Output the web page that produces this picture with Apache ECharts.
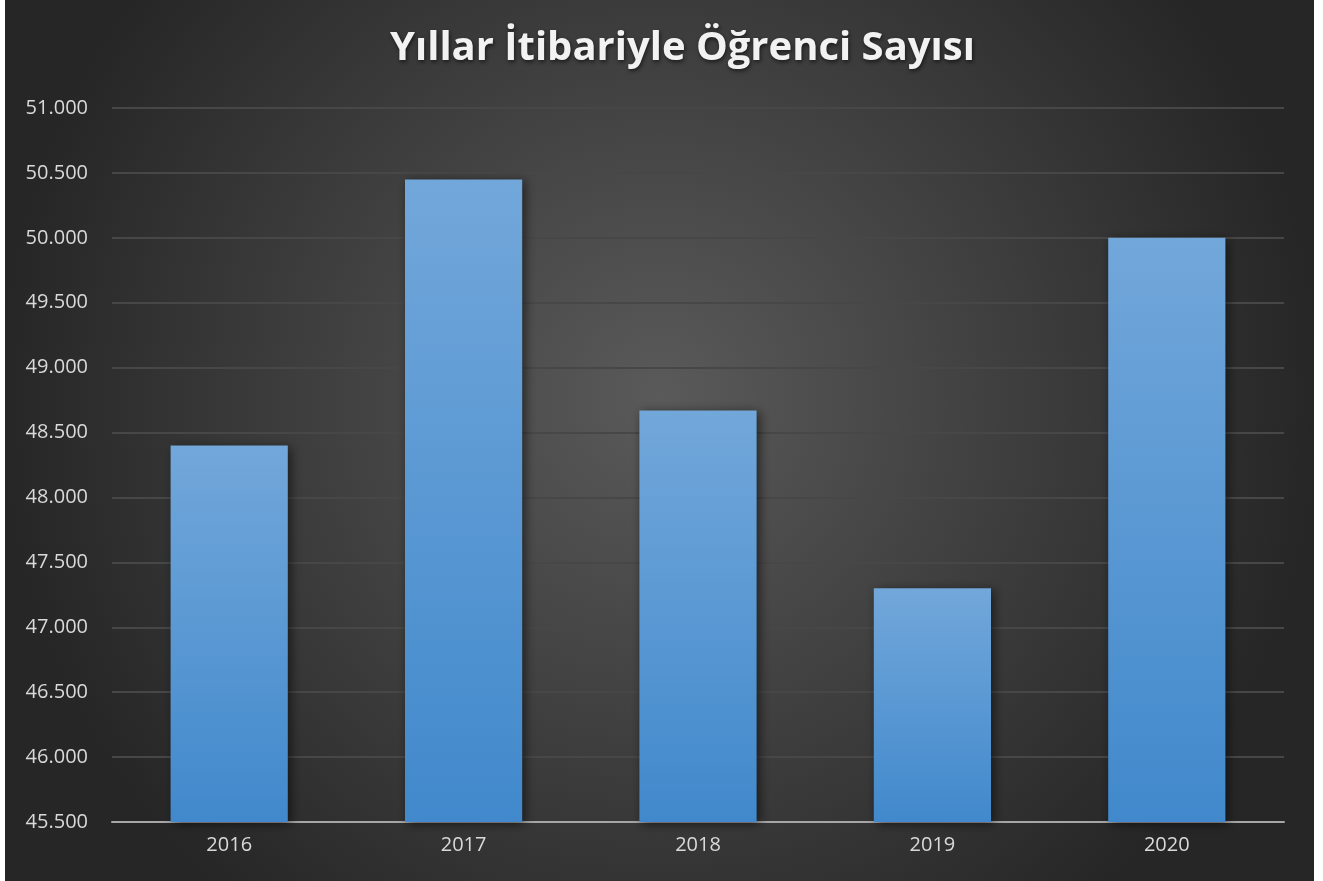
<!DOCTYPE html>
<html>
<head>
<meta charset="utf-8">
<script src="https://cdn.jsdelivr.net/npm/echarts@6/dist/echarts.min.js"></script>
<style>
  html, body { margin: 0; padding: 0; background: #fff; }
  #chart { position: absolute; left: 5px; top: 0; width: 1309px; height: 881px; }
</style>
</head>
<body>
<div id="chart"></div>
<script>
// veriler
const years = ['2016', '2017', '2018', '2019', '2020'];
const students = [48400, 50450, 48670, 47300, 50000];

const yMin = 45500;
const yMax = 51000;
const yStep = 500;

const fmt = (v) => v.toLocaleString('de-DE');

const chart = echarts.init(document.getElementById('chart'));

chart.setOption({
  backgroundColor: new echarts.graphic.RadialGradient(0.5, 0.45, 0.75, [
    { offset: 0, color: '#5a5a5a' },
    { offset: 1, color: '#262626' }
  ]),
  animation: false,
  title: {
    text: 'Yıllar İtibariyle Öğrenci Sayısı',
    left: 380,
    top: 24,
    textStyle: {
      color: '#f2f2f2',
      fontFamily: 'Open Sans',
      fontWeight: 'bold',
      fontSize: 40,
      textShadowColor: 'rgba(0,0,0,0.6)',
      textShadowBlur: 4,
      textShadowOffsetX: 1,
      textShadowOffsetY: 2
    }
  },
  grid: {
    left: 107,
    right: 30,
    top: 108,
    bottom: 59,
    containLabel: false
  },
  xAxis: {
    type: 'category',
    data: years,
    axisLine: { lineStyle: { color: '#a6a6a6', width: 2 } },
    axisTick: { show: false },
    axisLabel: {
      color: '#d9d9d9',
      fontFamily: 'Open Sans',
      fontSize: 20,
      margin: 13
    }
  },
  yAxis: {
    type: 'value',
    min: yMin,
    max: yMax,
    interval: yStep,
    axisLine: { show: false },
    axisTick: { show: false },
    axisLabel: {
      color: '#d9d9d9',
      fontFamily: 'Open Sans',
      fontSize: 20,
      margin: 24,
      formatter: fmt
    },
    splitLine: { lineStyle: { color: '#474747', width: 2 } }
  },
  series: [
    {
      type: 'bar',
      data: students,
      barWidth: '50%',
      itemStyle: {
        color: new echarts.graphic.LinearGradient(0, 0, 0, 1, [
          { offset: 0, color: '#72a7da' },
          { offset: 1, color: '#4189cc' }
        ]),
        shadowColor: 'rgba(0,0,0,0.55)',
        shadowBlur: 10,
        shadowOffsetX: 3,
        shadowOffsetY: 2
      }
    }
  ]
});
</script>
</body>
</html>
